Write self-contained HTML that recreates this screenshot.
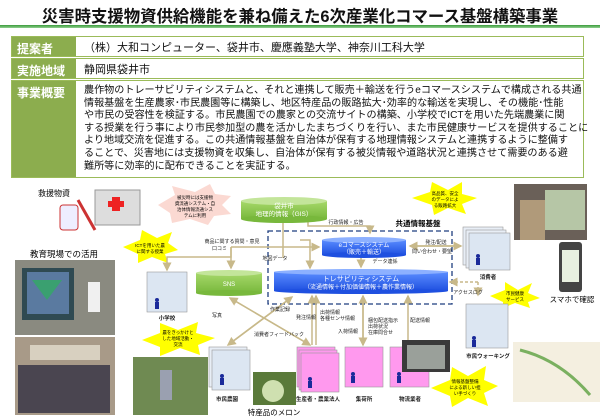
<!DOCTYPE html>
<html><head><meta charset="utf-8"><style>
*{margin:0;padding:0;box-sizing:border-box}
body{width:600px;height:420px;overflow:hidden;background:#fff;font-family:"Liberation Sans","Noto Sans CJK JP",sans-serif;position:relative}
.title{position:absolute;left:0;top:3px;width:600px;text-align:center;font-size:16.4px;font-weight:bold;color:#111;white-space:nowrap}
.line{position:absolute;left:0;top:25px;width:600px;height:3px;background:linear-gradient(#3a9a3a,#8fd08f)}
.row{position:absolute;left:11px;width:573px;border:1px solid #9bbb59;background:#fff}
.lab{position:absolute;left:0;top:0;bottom:0;width:64px;background:#8cad4e;color:#fff;font-weight:bold;font-size:12px;padding:3px 0 0 5px}
.txt{position:absolute;left:72px;top:2px;font-size:11px;color:#111;white-space:nowrap}
.t3{position:absolute;left:72px;font-size:10.1px;color:#111;white-space:nowrap;line-height:12.6px}
svg{position:absolute;left:0;top:0}
svg text{font-family:"Liberation Sans","Noto Sans CJK JP",sans-serif}
</style></head><body>
<div class="title">災害時支援物資供給機能を兼ね備えた6次産業化コマース基盤構築事業</div>
<div class="line"></div>
<div class="row" style="top:36px;height:21px"><div class="lab">提案者</div><div class="txt">（株）大和コンピューター、袋井市、慶應義塾大学、神奈川工科大学</div></div>
<div class="row" style="top:58px;height:21px"><div class="lab">実施地域</div><div class="txt">静岡県袋井市</div></div>
<div class="row" style="top:80px;height:98px"><div class="lab">事業概要</div>
<div class="t3" style="top:4px">農作物のトレーサビリティシステムと、それと連携して販売＋輸送を行うeコマースシステムで構成される共通<br>情報基盤を生産農家･市民農園等に構築し、地区特産品の販路拡大･効率的な輸送を実現し、その機能･性能<br>や市民の受容性を検証する。市民農園での農家との交流サイトの構築、小学校でICTを用いた先端農業に関<br>する授業を行う事により市民参加型の農を活かしたまちづくりを行い、また市民健康サービスを提供することに<br>より地域交流を促進する。この共通情報基盤を自治体が保有する地理情報システムと連携するように整備す<br>ることで、災害地には支援物資を収集し、自治体が保有する被災情報や道路状況と連携させて需要のある避<br>難所等に効率的に配布できることを実証する。</div></div>

<svg width="600" height="420" viewBox="0 0 600 420">
<defs>
<marker id="a" markerWidth="6" markerHeight="6" refX="5" refY="3" orient="auto"><path d="M0,0L6,3L0,6z" fill="#c8b98a"/></marker>
<linearGradient id="bl" x1="0" y1="0" x2="0" y2="1"><stop offset="0" stop-color="#5a8cff"/><stop offset="1" stop-color="#1f50e0"/></linearGradient>
<linearGradient id="gr" x1="0" y1="0" x2="0" y2="1"><stop offset="0" stop-color="#a6d86a"/><stop offset="1" stop-color="#78b83c"/></linearGradient>
</defs>
<!-- photos -->
<rect x="15" y="260" width="100" height="75" fill="#8a8a80"/><rect x="22" y="268" width="52" height="52" fill="#2f4a52"/><rect x="27" y="272" width="42" height="42" fill="#5a7aa0"/><polygon points="32,280 62,280 47,300" fill="#3aa070"/><rect x="88" y="282" width="12" height="30" fill="#f0f0f0"/>
<rect x="15" y="337" width="100" height="78" fill="#a89a88"/><rect x="18" y="365" width="92" height="48" fill="#4a4550"/><rect x="30" y="345" width="70" height="15" fill="#d8d0c0"/>
<rect x="133" y="357" width="75" height="58" fill="#6f8a52"/><rect x="160" y="370" width="12" height="30" fill="#9aa0b0"/>
<rect x="514" y="184" width="73" height="56" fill="#6a6058"/><rect x="545" y="190" width="40" height="40" fill="#b6c6a6"/><rect x="520" y="200" width="25" height="40" fill="#b09a7a"/>
<rect x="559" y="242" width="23" height="50" rx="3" fill="#444"/><rect x="562" y="250" width="17" height="32" fill="#e8f0e0"/>
<rect x="513" y="342" width="87" height="60" fill="#f4efe0"/><path d="M520,350 Q560,360 590,395" stroke="#7ab060" stroke-width="3" fill="none"/>
<rect x="253" y="372" width="43" height="33" fill="#5a7a3a"/><circle cx="273" cy="391" r="11" fill="#cfe0b0"/>
<!-- relief items -->
<rect x="95" y="190" width="45" height="35" fill="#ddd" stroke="#999"/><rect x="112" y="197" width="8" height="14" fill="#e22"/><rect x="108" y="201" width="16" height="6" fill="#e22"/>
<rect x="60" y="205" width="18" height="25" rx="3" fill="#eef" stroke="#c33"/><line x1="78" y1="200" x2="95" y2="230" stroke="#c33" stroke-width="3"/>
<text x="54" y="196" font-size="8" text-anchor="middle">救援物資</text>
<text x="64" y="257" font-size="8.5" text-anchor="middle">教育現場での活用</text>
<!-- stars -->
<g font-size="4.5" text-anchor="middle">
<polygon points="158,205 175,195 172,186 195,192 210,184 215,194 231,196 222,205 231,214 214,216 208,225 190,219 172,223 170,213" fill="#fbd9d2"/>
<text x="195" y="199">被災時には支援物</text><text x="195" y="205">資流通システム・自</text><text x="195" y="211">治体情報流通シス</text><text x="195" y="217">テムに利用</text>
<polygon points="412,198 430,192 432,182 448,190 462,182 462,194 477,198 462,204 466,214 448,208 434,215 432,205" fill="#ffff00"/>
<text x="445" y="195">高品質、安全</text><text x="445" y="201">のデータによ</text><text x="445" y="207">る販路拡大</text>
<polygon points="123,247 140,240 142,230 157,238 172,232 168,243 178,250 165,254 168,263 152,257 138,263 138,254" fill="#ffff00"/>
<text x="150" y="247">ICTを用いた農</text><text x="150" y="253">に関する授業</text>
<polygon points="490,296 505,290 505,282 518,290 532,283 528,293 540,298 528,302 530,308 515,303 503,308 503,302" fill="#ffff00"/>
<text x="515" y="295">市民健康</text><text x="515" y="301">サービス</text>
<polygon points="142,340 160,333 160,323 178,330 198,322 196,333 215,338 198,345 200,355 180,348 160,356 160,347" fill="#ffff00"/>
<text x="178" y="334">農をきっかけと</text><text x="178" y="340">した地域活動・</text><text x="178" y="346">交流</text>
<polygon points="431,388 450,380 452,367 468,376 486,366 484,380 498,386 484,393 488,406 468,398 452,407 450,396" fill="#ffff00"/>
<text x="465" y="383">情報基盤整備</text><text x="465" y="389">による新しい担</text><text x="465" y="395">い手づくり</text>
</g>
<!-- dashed box -->
<rect x="268" y="231" width="184" height="73" fill="none" stroke="#1f3f7f" stroke-width="1.3" stroke-dasharray="5,3"/>
<text x="418" y="226" font-size="7.5" font-weight="bold" text-anchor="middle">共通情報基盤</text>
<!-- arrows -->
<g stroke="#c8b98a" stroke-width="1.5" fill="none">
<path d="M308,222 V226 H370 V233" marker-end="url(#a)"/>
<path d="M283,222 V258 M283,222 V220"/>
<path d="M231,247 H319" marker-end="url(#a)"/>
<path d="M231,247 V268" marker-end="url(#a)"/>
<path d="M231,247 V257 H167 V270" marker-end="url(#a)"/>
<path d="M300,240 H310 V268" marker-end="url(#a)"/>
<path d="M361,258 V267" marker-end="url(#a)" marker-start="url(#a)"/>
<path d="M410,246 H461" marker-end="url(#a)"/>
<path d="M461,246 H410" marker-end="url(#a)"/>
<path d="M312,345 V296" marker-end="url(#a)"/><path d="M316,345 V296" marker-end="url(#a)"/>
<path d="M363,345 V296" marker-end="url(#a)"/><path d="M363,296 V345" marker-end="url(#a)"/>
<path d="M408,345 V296" marker-end="url(#a)"/>
<path d="M230,298 L310,345" marker-end="url(#a)"/>
<path d="M310,345 L230,298" marker-end="url(#a)"/>
<path d="M228,345 L292,297" marker-end="url(#a)"/>
<path d="M292,297 L228,345" marker-end="url(#a)"/>
<path d="M478,282 V295" stroke-dasharray="3,2" marker-end="url(#a)"/>
<path d="M478,282 H450" stroke-dasharray="3,2" marker-end="url(#a)"/>
</g>
<!-- cylinders -->
<rect x="241" y="201" width="86" height="18" fill="url(#gr)"/><ellipse cx="284" cy="219" rx="43" ry="4" fill="#78b83c"/><ellipse cx="284" cy="201" rx="43" ry="4" fill="#c3e59a"/>
<text x="284" y="208" font-size="6.5" fill="#fff" text-anchor="middle">袋井市</text><text x="284" y="216" font-size="6.5" fill="#fff" text-anchor="middle">地理的情報（GIS）</text>
<rect x="196" y="273" width="66" height="20" fill="url(#gr)"/><ellipse cx="229" cy="293" rx="33" ry="3" fill="#78b83c"/><ellipse cx="229" cy="273" rx="33" ry="3" fill="#c3e59a"/>
<text x="229" y="286" font-size="6" fill="#fff" text-anchor="middle">SNS</text>
<rect x="322" y="240" width="84" height="15" fill="url(#bl)"/><ellipse cx="364" cy="255" rx="42" ry="3" fill="#1f50e0"/><ellipse cx="364" cy="240" rx="42" ry="3" fill="#8cb0ff"/>
<text x="364" y="247" font-size="6" fill="#fff" text-anchor="middle">eコマースシステム</text><text x="364" y="254" font-size="6" fill="#fff" text-anchor="middle">（販売＋輸送）</text>
<rect x="274" y="272" width="174" height="19" fill="url(#bl)"/><ellipse cx="361" cy="291" rx="87" ry="3" fill="#1f50e0"/><ellipse cx="361" cy="272" rx="87" ry="3" fill="#8cb0ff"/>
<text x="361" y="281" font-size="7" fill="#fff" text-anchor="middle">トレサビリティシステム</text><text x="361" y="289" font-size="6" fill="#fff" text-anchor="middle">（流通情報＋付加価値情報＋農作業情報）</text>
<!-- boxes -->
<g stroke="#999" stroke-width="0.6">
<rect x="147" y="272" width="40" height="40" fill="#dce6f2"/>
<rect x="463" y="227" width="40" height="38" fill="#e8eef6"/><rect x="466" y="230" width="40" height="38" fill="#e8eef6"/><rect x="469" y="233" width="41" height="37" fill="#dce6f2"/>
<rect x="466" y="304" width="42" height="44" fill="#dce6f2"/>
<rect x="209" y="347" width="38" height="40" fill="#e8eef6"/><rect x="212" y="350" width="38" height="40" fill="#dce6f2"/>
<rect x="297" y="347" width="38" height="40" fill="#ff99ee"/><rect x="299" y="350" width="38" height="40" fill="#ff99ee"/><rect x="301" y="353" width="38" height="39" fill="#ff99ee"/>
<rect x="345" y="347" width="38" height="40" fill="#ff99ee"/>
<rect x="390" y="347" width="39" height="40" fill="#ff99ee"/>
</g>
<rect x="402" y="340" width="48" height="32" fill="#3a3a3a"/><rect x="407" y="345" width="38" height="24" fill="#9aa09a"/>
<g fill="#1a2a9a">
<circle cx="157" cy="300" r="2"/><rect x="155" y="302" width="4" height="7"/>
<circle cx="478" cy="256" r="2"/><rect x="476" y="258" width="4" height="7"/>
<circle cx="474" cy="338" r="2"/><rect x="472" y="340" width="4" height="7"/>
<circle cx="222" cy="376" r="2"/><rect x="220" y="378" width="4" height="7"/>
<circle cx="310" cy="379" r="2"/><rect x="308" y="381" width="4" height="7"/>
<circle cx="353" cy="374" r="2"/><rect x="351" y="376" width="4" height="7"/>
<circle cx="399" cy="374" r="2"/><rect x="397" y="376" width="4" height="7"/>
</g>
<!-- labels -->
<g font-size="5" fill="#222">
<text x="346" y="224" text-anchor="middle">行政情報・広告</text>
<text x="232" y="243" text-anchor="middle">商品に関する質問・意見</text><text x="212" y="250">口コミ</text>
<text x="275" y="260" text-anchor="middle">地図データ</text>
<text x="385" y="263" text-anchor="middle">データ連係</text>
<text x="436" y="244" text-anchor="middle">発注/配送</text><text x="432" y="253" text-anchor="middle">問い合わせ・要望</text>
<text x="468" y="294" text-anchor="middle">アクセスログ</text>
<text x="217" y="317" text-anchor="middle">写真</text><text x="280" y="311" text-anchor="middle">作業記録</text>
<text x="279" y="336" text-anchor="middle">消費者フィードバック</text>
<text x="306" y="319" text-anchor="middle">発注情報</text>
<text x="320" y="314">出荷情報</text><text x="320" y="320">各種センサ情報</text>
<text x="348" y="333" text-anchor="middle">入荷情報</text>
<text x="368" y="322">梱包配送指示</text><text x="368" y="328">出荷状況</text><text x="368" y="334">在庫問合せ</text>
<text x="410" y="322">配送情報</text>
<g font-weight="bold" text-anchor="middle" font-size="5.5">
<text x="167" y="320">小学校</text><text x="488" y="279">消費者</text><text x="488" y="358">市民ウォーキング</text>
<text x="227" y="401">市民農園</text><text x="318" y="401">生産者・農業法人</text><text x="364" y="401">集荷所</text><text x="410" y="401">物流業者</text>
</g>
</g>
<text x="572" y="302" font-size="7.5" text-anchor="middle">スマホで確認</text>
<text x="274" y="415" font-size="7.5" text-anchor="middle">特産品のメロン</text>
</svg>
</body></html>
